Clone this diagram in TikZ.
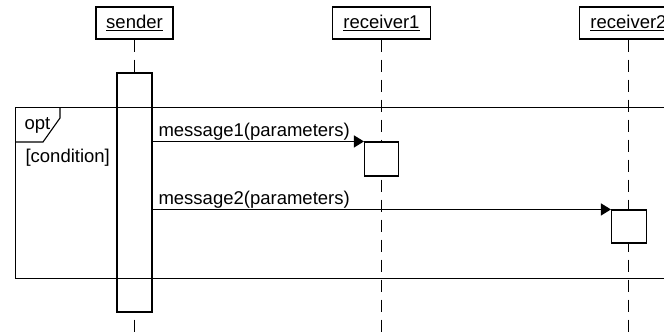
\documentclass[tikz,border=0pt]{standalone}
\usepackage{fontspec}
\setmainfont{Liberation Sans}
\usetikzlibrary{arrows.meta}
\begin{document}
\begin{tikzpicture}[x=1pt,y=-1pt,line width=1.1pt,
  txt/.style={font=\fontsize{18.5}{20}\selectfont},
  head/.style={txt,draw,fill=white,minimum height=32pt,inner sep=0pt},
  act/.style={draw,fill=white,inner sep=0pt},
  life/.style={dash pattern=on 12pt off 8pt},
  msg/.style={-{Triangle[length=10pt,width=12pt]}},
  lbl/.style={txt,anchor=base west,inner sep=0pt}]
\useasboundingbox (0,0) rectangle (664,335);
\clip (0,0) rectangle (664,335);
% headers
\node[head,minimum width=77pt] (s) at (134.5,23) {\underline{sender}};
\node[head,minimum width=98pt] (r1) at (381.5,23) {\underline{receiver1}};
\node[head,minimum width=98pt] (r2) at (628.5,23) {\underline{receiver2}};
% lifeline ends
\coordinate (se) at (134.5,340);
\coordinate (r1e) at (381.5,340);
\coordinate (r2e) at (628.5,340);
\draw[life] (s.south) -- (se);
\draw[life] (r1.south) -- (r1e);
\draw[life] (r2.south) -- (r2e);
% activations
\node[act,minimum width=35pt,minimum height=239pt] (sa) at (134.5,192.5) {};
\node[act,minimum width=34pt,minimum height=34pt] (r1a) at (381.5,159) {};
\node[act,minimum width=35pt,minimum height=33pt] (r2a) at (629,226.5) {};
% combined fragment
\node[draw,anchor=north west,minimum width=700pt,minimum height=171pt,inner sep=0pt] (frame) at (15,107) {};
\coordinate (t1) at (60,107);
\coordinate (t2) at (60,118);
\coordinate (t3) at (43,142);
\coordinate (t4) at (15,142);
\draw (t1) -- (t2) -- (t3) -- (t4);
\node[lbl] (opt) at (24,129) {opt};
\node[lbl] (cond) at (25,162) {[condition]};
% messages
\draw[msg] (sa.east |- r1a.north west) -- (r1a.north west);
\draw[msg] (sa.east |- r2a.north west) -- (r2a.north west);
\node[lbl] (m1) at (158,136) {message1(parameters)};
\node[lbl] (m2) at (158,204.5) {message2(parameters)};
\end{tikzpicture}
\end{document}
